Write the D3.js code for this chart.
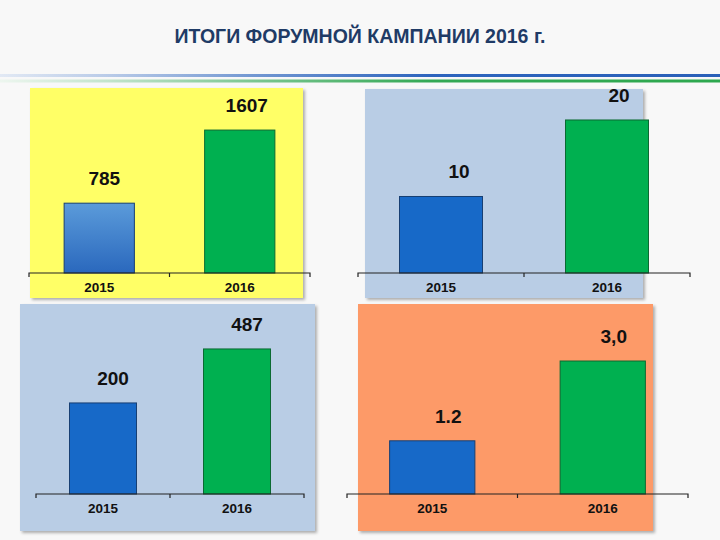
<!DOCTYPE html>
<html>
<head>
<meta charset="utf-8">
<script src="https://cdn.jsdelivr.net/npm/d3@7"></script>
<style>
  body { margin: 0; background: #f8f8f8; }
  svg { display: block; }
  text { font-family: "Liberation Sans", Arial, sans-serif; }
</style>
</head>
<body>
<svg id="chart"></svg>
<script>
// data
var years = ['2015', '2016'];
var valuesA = [785, 1607];
var valuesB = [10, 20];
var valuesC = [200, 487];
var valuesD = [1.2, 3.0];
var labelsA = ['785', '1607'];
var labelsB = ['10', '20'];
var labelsC = ['200', '487'];
var labelsD = ['1.2', '3,0'];

var width = 720, height = 540;

var svg = d3.select('#chart')
  .attr('width', width)
  .attr('height', height);

var defs = svg.append('defs');

// soft shadow under the panels
var shadow = defs.append('filter').attr('id', 'shadow')
  .attr('x', '-5%').attr('y', '-5%').attr('width', '115%').attr('height', '115%');
shadow.append('feDropShadow')
  .attr('dx', 2).attr('dy', 2).attr('stdDeviation', 1.5)
  .attr('flood-color', '#000').attr('flood-opacity', 0.3);

function lineGradient (id, stops) {
  var g = defs.append('linearGradient').attr('id', id)
    .attr('x1', '0%').attr('x2', '100%').attr('y1', 0).attr('y2', 0);
  stops.forEach(function (s) {
    g.append('stop').attr('offset', s[0]).attr('stop-color', s[1]);
  });
}
lineGradient('blueLine', [['0%', '#e2e9f4'], ['15%', '#b9cbe8'], ['35%', '#7398d2'], ['60%', '#2d64bd'], ['100%', '#2a60b8']]);
lineGradient('greenLine', [['0%', '#edf6ef'], ['15%', '#c2e4cc'], ['35%', '#7cc692'], ['60%', '#33a854'], ['100%', '#2ea84f']]);

var barGrad = defs.append('linearGradient').attr('id', 'barGrad')
  .attr('x1', 0).attr('x2', 0).attr('y1', '0%').attr('y2', '100%');
barGrad.append('stop').attr('offset', '0%').attr('stop-color', '#5b9bda');
barGrad.append('stop').attr('offset', '100%').attr('stop-color', '#2a68bd');

// title
svg.append('text')
  .attr('x', 360)
  .attr('y', 43)
  .attr('text-anchor', 'middle')
  .attr('font-size', 19.5)
  .attr('font-weight', 'bold')
  .attr('fill', '#1f3b66')
  .text('ИТОГИ ФОРУМНОЙ КАМПАНИИ 2016 г.');

svg.append('rect').attr('x', 0).attr('y', 74).attr('width', width).attr('height', 3)
  .attr('fill', 'url(#blueLine)');
svg.append('rect').attr('x', 0).attr('y', 79.5).attr('width', width).attr('height', 3)
  .attr('fill', 'url(#greenLine)');

/* panels */
var panels = [
  { values: valuesA, labels: labelsA, bg: '#ffff66', box: [30, 88, 273, 210],
    axis: [29, 310], base: 273, top: 88, domain: [0, 2080], dx: [5, 7], firstFill: 'url(#barGrad)' },
  { values: valuesB, labels: labelsB, bg: '#b9cde5', box: [365, 89, 278, 209],
    axis: [358, 690], base: 273, top: 89, domain: [0, 24.05], dx: [18, 12], firstFill: '#1769c8' },
  { values: valuesC, labels: labelsC, bg: '#b9cde5', box: [20, 304, 295, 227],
    axis: [36, 304], base: 494, top: 304, domain: [-284, 726], dx: [10, 10], firstFill: '#1769c8' },
  { values: valuesD, labels: labelsD, bg: '#fd9a68', box: [358, 304, 295, 227],
    axis: [347, 688], base: 494, top: 304, domain: [0, 4.286], dx: [16, 11], firstFill: '#1769c8' }
];

panels.forEach(function (p) {
  var g = svg.append('g');

  g.append('rect')
    .attr('x', p.box[0]).attr('y', p.box[1])
    .attr('width', p.box[2]).attr('height', p.box[3])
    .attr('fill', p.bg)
    .attr('filter', 'url(#shadow)');

  var x = d3.scaleBand().domain(years).range(p.axis)
    .paddingInner(0.5).paddingOuter(0.25);
  var y = d3.scaleLinear().domain(p.domain).range([p.base, p.top]);

  var data = years.map(function (yr, i) {
    return { year: yr, value: p.values[i], label: p.labels[i], i: i };
  });

  g.selectAll('.bar').data(data)
    .enter()
      .append('rect')
        .attr('x', function (d) { return x(d.year); })
        .attr('y', function (d) { return y(d.value); })
        .attr('width', x.bandwidth())
        .attr('height', function (d) { return p.base - y(d.value); })
        .attr('fill', function (d) { return d.i === 0 ? p.firstFill : '#00b050'; })
        .attr('stroke', function (d) { return d.i === 0 ? '#173f73' : '#0b6a32'; })
        .attr('stroke-width', 1);

  g.selectAll('.val').data(data)
    .enter()
      .append('text')
        .attr('x', function (d) { return x(d.year) + x.bandwidth() / 2 + p.dx[d.i]; })
        .attr('y', function (d) { return y(d.value) - 18; })
        .attr('text-anchor', 'middle')
        .attr('font-size', 19)
        .attr('font-weight', 'bold')
        .attr('fill', '#111')
        .text(function (d) { return d.label; });

  // category axis
  var axis = g.append('g')
    .attr('transform', 'translate(0,' + p.base + ')')
    .call(d3.axisBottom(x).tickSize(0).tickPadding(9));
  axis.select('.domain').attr('stroke', '#222').attr('stroke-width', 1.2)
    .attr('d', 'M' + p.axis[0] + ',4V0H' + p.axis[1] + 'V4');
  axis.selectAll('text')
    .attr('font-size', 13.5)
    .attr('font-weight', 'bold')
    .attr('fill', '#111')
    .style('font-family', '"Liberation Sans", Arial, sans-serif');

  var mid = x(years[1]) - x.step() * x.paddingInner() / 2;
  axis.append('line')
    .attr('x1', mid).attr('x2', mid).attr('y1', 0).attr('y2', 4)
    .attr('stroke', '#222').attr('stroke-width', 1.2);
});
</script>
</body>
</html>
